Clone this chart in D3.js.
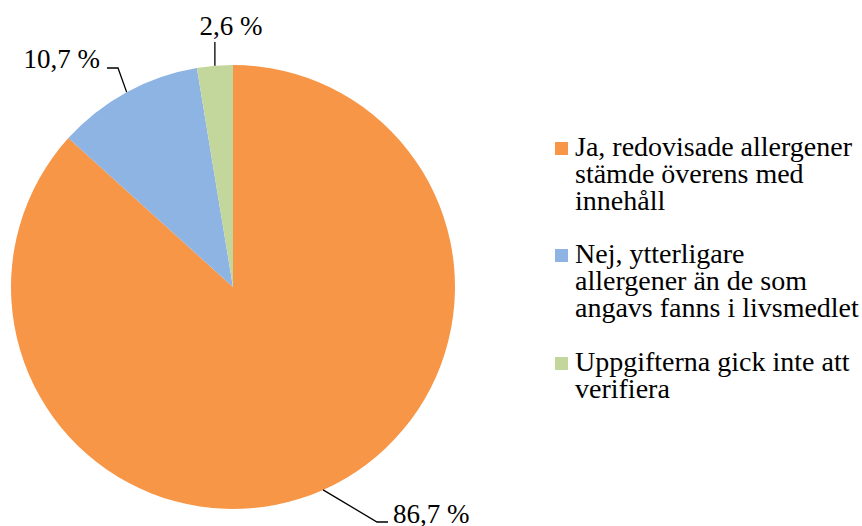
<!DOCTYPE html>
<html><head><meta charset="utf-8">
<script src="https://cdn.jsdelivr.net/npm/d3@7"></script>
<style>body{margin:0;background:#fff}svg{display:block}</style>
</head><body>
<script>
const categories = [
  ["Ja, redovisade allergener", "stämde överens med", "innehåll"],
  ["Nej, ytterligare", "allergener än de som", "angavs fanns i livsmedlet"],
  ["Uppgifterna gick inte att", "verifiera"]
];
const values = [86.7, 10.7, 2.6];
const valueLabels = ["86,7 %", "10,7 %", "2,6 %"];
const colors = ["#F79646", "#8EB4E3", "#C3D69B"];

const FONT = "'Liberation Serif', serif";
const W = 862, H = 526;
const cx = 233, cy = 287, R = 222;
const svg = d3.select("body").append("svg").attr("width", W).attr("height", H);
const g = svg.append("g").attr("transform", `translate(${cx},${cy})`);

const pie = d3.pie().sort(null).value(d => d)(values);
const arc = d3.arc().innerRadius(0).outerRadius(R);
g.selectAll("path.slice").data(pie).join("path")
  .attr("d", arc).attr("fill", (d, i) => colors[i]);

function edge(d, r) {
  const a = (d.startAngle + d.endAngle) / 2;
  return [r * Math.sin(a), -r * Math.cos(a)];
}
const [p0, p1, p2] = pie;
const stroke = sel => sel.attr("fill", "none").attr("stroke", "#000").attr("stroke-width", 1.3);
const label = (x, y, anchor, txt) => g.append("text").attr("x", x).attr("y", y)
  .attr("text-anchor", anchor).attr("font-size", 27).style("font-family", FONT).text(txt);
// 86,7 %
{
  const s = edge(p0, R);
  g.append("path").attr("d", d3.line()([s, [144, 235], [155, 235]])).call(stroke);
  label(160, 236, "start", valueLabels[0]);
}
// 10,7 %
{
  const s = edge(p1, R);
  g.append("path").attr("d", d3.line()([s, [-115, -219], [-126, -219]])).call(stroke);
  label(-133, -219, "end", valueLabels[1]);
}
// 2,6 %
{
  const s = edge(p2, R);
  g.append("path").attr("d", d3.line()([s, [s[0], -245]])).call(stroke);
  label(-2, -252, "middle", valueLabels[2]);
}

// legend
const lg = svg.append("g").attr("transform", "translate(555,0)");
const itemY = [156, 263, 371];
categories.forEach((lines, i) => {
  lg.append("rect").attr("x", 0).attr("y", itemY[i] - 14).attr("width", 13).attr("height", 13).attr("fill", colors[i]);
  const t = lg.append("text").attr("x", 20).attr("y", itemY[i]).attr("font-size", 28).style("font-family", FONT);
  lines.forEach((l, j) => t.append("tspan").attr("x", 20).attr("dy", j ? 27 : 0).text(l));
});
</script>
</body></html>
